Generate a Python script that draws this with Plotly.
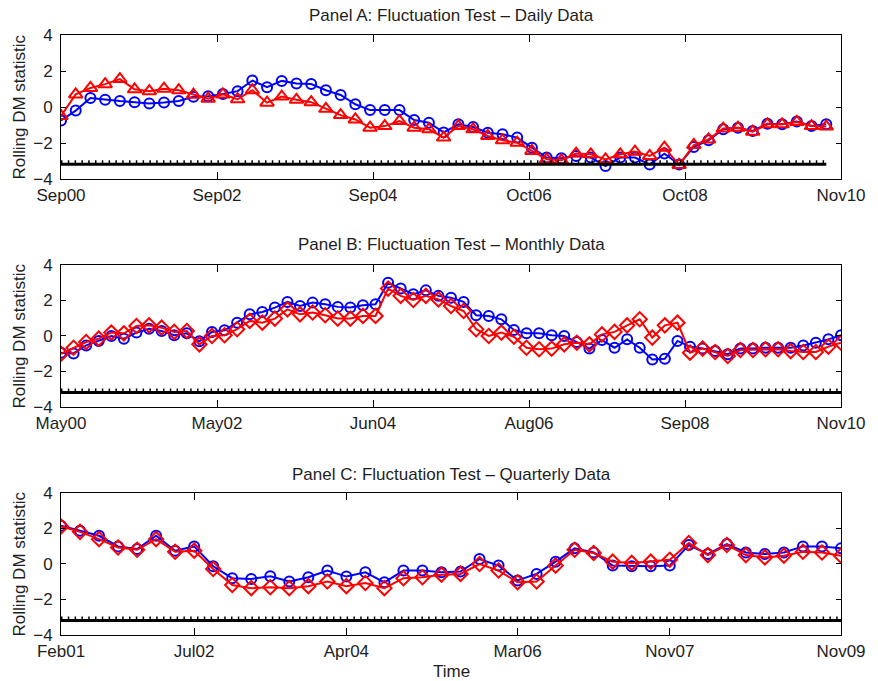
import plotly.graph_objects as go

# ---------------- data ----------------
daily_tick_pos = [0, 10.6, 21.2, 31.8, 42.4, 53.0]
daily_tick_labels = ["Sep00", "Sep02", "Sep04", "Oct06", "Oct08", "Nov10"]
daily_range = [0, 53.0]
daily_blue = [-0.75, -0.2, 0.5, 0.4, 0.33, 0.27, 0.2, 0.25, 0.33, 0.57,
              0.6, 0.72, 0.88, 1.47, 1.1, 1.45, 1.3, 1.28, 0.93, 0.67,
              0.15, -0.17, -0.17, -0.17, -0.72, -0.87, -1.41, -0.96, -1.11, -1.43,
              -1.52, -1.70, -2.26, -2.81, -2.85, -2.72, -2.81, -3.28, -2.81, -2.81,
              -3.19, -2.59, -3.19, -2.22, -1.85, -1.24, -1.15, -1.33, -0.93, -0.96,
              -0.81, -1.06, -0.96]
daily_red = [-0.5, 0.7, 1.06, 1.27, 1.55, 0.98, 0.88, 1.02, 0.93, 0.68,
             0.46, 0.7, 0.43, 0.93, 0.24, 0.58, 0.4, 0.27, -0.1, -0.45,
             -0.69, -1.15, -1.06, -0.78, -1.15, -1.24, -1.7, -1.06, -1.24, -1.61,
             -1.85, -1.98, -2.44, -2.91, -2.96, -2.59, -2.63, -2.91, -2.63, -2.48,
             -2.72, -2.26, -3.22, -2.11, -1.8, -1.2, -1.15, -1.37, -0.96, -0.96,
             -0.83, -1.06, -1.09]

monthly_tick_pos = [0, 12.4, 24.8, 37.2, 49.6, 62]
monthly_tick_labels = ["May00", "May02", "Jun04", "Aug06", "Sep08", "Nov10"]
monthly_range = [0, 62]
monthly_blue = [-0.94, -0.98, -0.53, -0.28, 0.0, -0.15, 0.19, 0.41, 0.28, 0.04,
                0.15, -0.3, 0.23, 0.32, 0.75, 1.22, 1.35, 1.6, 1.92, 1.69,
                1.88, 1.79, 1.64, 1.6, 1.73, 1.79, 3.0, 2.67, 2.35, 2.57,
                2.26, 2.16, 1.92, 1.17, 1.13, 0.94, 0.34, 0.15, 0.15, 0.04,
                0.0, -0.34, -0.71, -0.23, -0.66, -0.19, -0.66, -1.32, -1.28, -0.28,
                -0.6, -0.71, -0.85, -1.03, -0.71, -0.71, -0.66, -0.66, -0.66, -0.53,
                -0.38, -0.19, 0.04]
monthly_red = [-1.0, -0.66, -0.34, -0.15, 0.19, 0.15, 0.56, 0.6, 0.47, 0.23,
               0.28, -0.47, 0.0, 0.04, 0.38, 0.85, 0.75, 0.98, 1.5, 1.22,
               1.32, 1.17, 0.98, 0.98, 1.13, 1.13, 2.67, 2.26, 2.03, 2.26,
               2.06, 1.69, 1.41, 0.38, 0.0, 0.19, -0.04, -0.66, -0.75, -0.71,
               -0.47, -0.38, -0.47, 0.09, 0.23, 0.6, 0.94, -0.09, 0.6, 0.75,
               -0.94, -0.71, -0.9, -1.13, -0.79, -0.79, -0.75, -0.75, -0.85, -0.9,
               -0.9, -0.6, -0.38]

quarterly_tick_pos = [0, 7, 15, 24, 32, 41]
quarterly_tick_labels = ["Feb01", "Jul02", "Apr04", "Mar06", "Nov07", "Nov09"]
quarterly_range = [0, 41]
quarterly_blue = [2.15, 1.87, 1.59, 0.99, 0.84, 1.59, 0.75, 0.99, -0.13, -0.8,
                  -0.84, -0.69, -0.99, -0.75, -0.37, -0.71, -0.47, -1.03, -0.37, -0.37,
                  -0.47, -0.43, 0.28, -0.09, -0.93, -0.56, 0.13, 0.88, 0.65, -0.09,
                  -0.13, -0.13, -0.09, 1.07, 0.56, 1.12, 0.65, 0.56, 0.65, 0.99,
                  0.99, 0.88]
quarterly_red = [2.11, 1.81, 1.4, 0.93, 0.8, 1.4, 0.69, 0.75, -0.28, -1.18,
                 -1.36, -1.31, -1.36, -1.25, -0.99, -1.25, -1.07, -1.36, -0.8, -0.75,
                 -0.6, -0.56, 0.0, -0.37, -1.03, -0.99, -0.09, 0.8, 0.62, 0.13,
                 0.06, 0.13, 0.24, 1.18, 0.5, 1.07, 0.5, 0.37, 0.47, 0.69,
                 0.65, 0.47]

crit_solid = -3.18
crit_dotted = -3.05

panel_titles = ["Panel A: Fluctuation Test \u2013 Daily Data",
                "Panel B: Fluctuation Test \u2013 Monthly Data",
                "Panel C: Fluctuation Test \u2013 Quarterly Data"]
y_title = "Rolling DM statistic"
x_title = "Time"

# ---------------- figure ----------------
FONT = "Liberation Sans, Arial, sans-serif"
FS = 17
TXT = "#1e1e1e"
BLUE = "#0000ff"
RED = "#ff0000"

fig = go.Figure()

panels = [
    (daily_blue, daily_red, "triangle-up-open", 12, daily_tick_pos, daily_tick_labels, daily_range),
    (monthly_blue, monthly_red, "diamond-open", 11, monthly_tick_pos, monthly_tick_labels, monthly_range),
    (quarterly_blue, quarterly_red, "diamond-open", 11, quarterly_tick_pos, quarterly_tick_labels, quarterly_range),
]

domains = [[0.76, 1.0], [0.38, 0.6167], [0.0, 0.2367]]

for i, (blue, red, rsym, rsize, tpos, tlab, xr) in enumerate(panels):
    sfx = "" if i == 0 else str(i + 1)
    xa, ya = "x" + sfx, "y" + sfx
    xb = list(range(len(blue)))
    xrd = list(range(len(red)))
    fig.add_trace(go.Scatter(x=xb, y=blue, mode="lines+markers", xaxis=xa, yaxis=ya,
                             line=dict(color=BLUE, width=2),
                             marker=dict(symbol="circle-open", size=10, color=BLUE,
                                         line=dict(width=2, color=BLUE)),
                             showlegend=False, hoverinfo="skip"))
    fig.add_trace(go.Scatter(x=xrd, y=red, mode="lines+markers", xaxis=xa, yaxis=ya,
                             line=dict(color=RED, width=2),
                             marker=dict(symbol=rsym, size=rsize, color=RED,
                                         line=dict(width=2, color=RED)),
                             showlegend=False, hoverinfo="skip"))
    xl = [xb[0], xb[-1]]
    fig.add_trace(go.Scatter(x=xl, y=[crit_dotted] * 2, mode="lines", xaxis=xa, yaxis=ya,
                             line=dict(color="black", width=3.5, dash="1.5px,5.3px"),
                             showlegend=False, hoverinfo="skip"))
    fig.add_trace(go.Scatter(x=xl, y=[crit_solid] * 2, mode="lines", xaxis=xa, yaxis=ya,
                             line=dict(color="black", width=3),
                             showlegend=False, hoverinfo="skip"))

    axis_common = dict(showline=True, linecolor="black", linewidth=1, mirror="ticks",
                       ticks="inside", tickcolor="black", showgrid=False, zeroline=False,
                       tickfont=dict(family=FONT, size=FS, color=TXT))
    fig.layout["xaxis" + sfx] = dict(axis_common, domain=[0, 1], anchor=ya,
                                     range=xr, tickmode="array", tickvals=tpos,
                                     ticktext=tlab, ticklen=7, ticklabelstandoff=1)
    fig.layout["yaxis" + sfx] = dict(axis_common, domain=domains[i], anchor=xa,
                                     range=[-4, 4], tickmode="array",
                                     tickvals=[-4, -2, 0, 2, 4], ticklen=5,
                                     ticklabelstandoff=4)

title_y = [1.0317, 0.6508, 0.2683]
ylab_y = [0.88, 0.4983, 0.1183]
ann = []
for i in range(3):
    ann.append(dict(text=panel_titles[i], x=0.5, y=title_y[i], xref="paper", yref="paper",
                    xanchor="center", yanchor="middle", showarrow=False,
                    font=dict(family=FONT, size=FS, color=TXT)))
    ann.append(dict(text=y_title, x=-0.0544, y=ylab_y[i], xref="paper", yref="paper",
                    xanchor="center", yanchor="middle", textangle=-90, showarrow=False,
                    font=dict(family=FONT, size=FS, color=TXT)))
ann.append(dict(text=x_title, x=0.5, y=-0.06, xref="paper", yref="paper",
                xanchor="center", yanchor="middle", showarrow=False,
                font=dict(family=FONT, size=FS, color=TXT)))

fig.update_layout(width=878, height=681, margin=dict(l=61, r=27, t=35, b=46),
                  paper_bgcolor="white", plot_bgcolor="white", annotations=ann,
                  font=dict(family=FONT, color=TXT))

fig.write_html("out.html", config={"displayModeBar": False},
               post_script="document.body.style.margin='0px';document.body.style.overflow='hidden';")
